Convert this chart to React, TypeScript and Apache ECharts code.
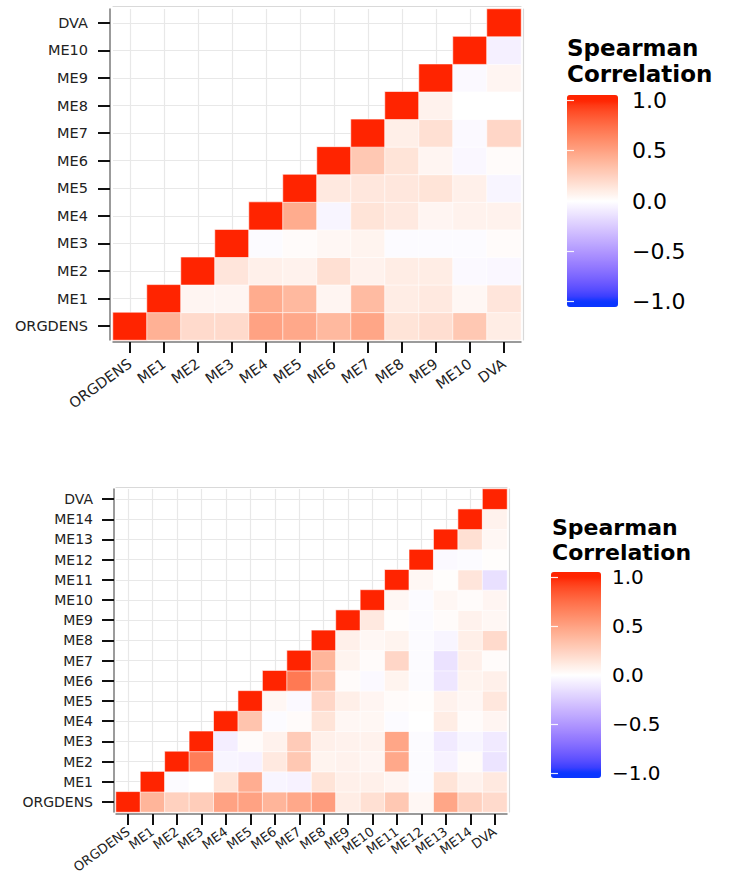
import { useEffect, useRef } from "react";
import * as echarts from "echarts";

// ---------- categories ----------
const TOP_VARS = ["ORGDENS", "ME1", "ME2", "ME3", "ME4", "ME5", "ME6", "ME7", "ME8", "ME9", "ME10", "DVA"];
const BOTTOM_VARS = ["ORGDENS", "ME1", "ME2", "ME3", "ME4", "ME5", "ME6", "ME7", "ME8", "ME9", "ME10", "ME11", "ME12", "ME13", "ME14", "DVA"];

// ---------- top matrix: each row lists values from its own diagonal to DVA ----------
const top_ORGDENS = [1, 0.42, 0.2, 0.2, 0.5, 0.47, 0.38, 0.48, 0.15, 0.18, 0.3, 0.1];
const top_ME1 = [1, 0.05, 0.05, 0.45, 0.38, 0.05, 0.37, 0.1, 0.12, 0.04, 0.14];
const top_ME2 = [1, 0.14, 0.08, 0.07, 0.17, 0.07, 0.1, 0.1, -0.03, -0.04];
const top_ME3 = [1, -0.02, 0.02, 0.04, 0.06, -0.02, -0.02, -0.02, 0.02];
const top_ME4 = [1, 0.45, -0.05, 0.15, 0.12, 0.05, 0.07, 0.07];
const top_ME5 = [1, 0.12, 0.13, 0.13, 0.15, 0.08, -0.05];
const top_ME6 = [1, 0.3, 0.15, 0.05, -0.04, 0.02];
const top_ME7 = [1, 0.09, 0.17, -0.03, 0.22];
const top_ME8 = [1, 0.07, 0, 0];
const top_ME9 = [1, -0.03, 0.05];
const top_ME10 = [1, -0.07];
const top_DVA = [1];
const TOP_ROWS = [top_ORGDENS, top_ME1, top_ME2, top_ME3, top_ME4, top_ME5, top_ME6, top_ME7, top_ME8, top_ME9, top_ME10, top_DVA];

// ---------- bottom matrix ----------
const bot_ORGDENS = [1, 0.4, 0.25, 0.27, 0.5, 0.5, 0.4, 0.47, 0.52, 0.1, 0.17, 0.3, 0.04, 0.48, 0.25, 0.2];
const bot_ME1 = [1, -0.02, 0, 0.15, 0.44, -0.05, -0.06, 0.15, 0.08, 0.08, 0.05, -0.02, 0.15, 0.07, 0.12];
const bot_ME2 = [1, 0.68, -0.05, -0.06, 0.12, 0.3, 0.06, 0.07, 0.05, 0.47, -0.02, -0.06, 0.02, -0.13];
const bot_ME3 = [1, -0.08, 0.02, 0.07, 0.28, 0.08, 0.07, 0.07, 0.48, -0.02, -0.1, -0.05, -0.1];
const bot_ME4 = [1, 0.32, -0.02, 0.02, 0.15, 0.04, 0.04, -0.02, 0, 0.1, 0.02, 0.05];
const bot_ME5 = [1, 0.04, -0.03, 0.22, 0.09, 0.05, 0.02, 0.01, 0.07, 0.04, 0.13];
const bot_ME6 = [1, 0.7, 0.36, 0.02, -0.03, 0.06, -0.02, -0.12, 0.06, 0.08];
const bot_ME7 = [1, 0.4, 0.06, 0.02, 0.22, -0.02, -0.14, 0.08, 0.02];
const bot_ME8 = [1, 0.08, 0.04, 0.06, -0.02, -0.05, 0.09, 0.2];
const bot_ME9 = [1, 0.12, 0.01, -0.02, 0.02, 0.07, 0.04];
const bot_ME10 = [1, 0.04, -0.02, 0.04, 0.02, 0.05];
const bot_ME11 = [1, 0.04, 0.01, 0.14, -0.15];
const bot_ME12 = [1, -0.03, -0.02, 0.01];
const bot_ME13 = [1, 0.17, 0.04];
const bot_ME14 = [1, 0.07];
const bot_DVA = [1];
const BOTTOM_ROWS = [bot_ORGDENS, bot_ME1, bot_ME2, bot_ME3, bot_ME4, bot_ME5, bot_ME6, bot_ME7, bot_ME8, bot_ME9, bot_ME10, bot_ME11, bot_ME12, bot_ME13, bot_ME14, bot_DVA];

// ---------- legend ----------
const LEGEND_TITLE = "Spearman\nCorrelation";
const LEGEND_MIN = -1;
const LEGEND_MAX = 1;
const LEGEND_STEP = 0.5;
const COLOR_HIGH = "#FF2400";
const COLOR_MID = "#FFFFFF";
const COLOR_LOW = "#0A35FF";

// ---------- Lab colour interpolation (like ggplot's gradient2) ----------
function hexToRgb(h: string) {
  const n = parseInt(h.slice(1), 16);
  return [(n >> 16) & 255, (n >> 8) & 255, n & 255];
}
function toLin(c: number) {
  c /= 255;
  return c <= 0.04045 ? c / 12.92 : Math.pow((c + 0.055) / 1.055, 2.4);
}
function fromLin(c: number) {
  c = Math.max(0, Math.min(1, c));
  const v = c <= 0.0031308 ? 12.92 * c : 1.055 * Math.pow(c, 1 / 2.4) - 0.055;
  return Math.round(v * 255);
}
const XN = 0.95047, YN = 1, ZN = 1.08883;
function f(t: number) {
  return t > 0.008856 ? Math.cbrt(t) : 7.787 * t + 16 / 116;
}
function finv(t: number) {
  const t3 = t * t * t;
  return t3 > 0.008856 ? t3 : (t - 16 / 116) / 7.787;
}
function hexToLab(h: string) {
  const [r, g, b] = hexToRgb(h).map(toLin);
  const x = 0.4124 * r + 0.3576 * g + 0.1805 * b;
  const y = 0.2126 * r + 0.7152 * g + 0.0722 * b;
  const z = 0.0193 * r + 0.1192 * g + 0.9505 * b;
  const fx = f(x / XN), fy = f(y / YN), fz = f(z / ZN);
  return [116 * fy - 16, 500 * (fx - fy), 200 * (fy - fz)];
}
function labToHex(L: number, a: number, bb: number) {
  const fy = (L + 16) / 116;
  const fx = fy + a / 500;
  const fz = fy - bb / 200;
  const x = XN * finv(fx), y = YN * finv(fy), z = ZN * finv(fz);
  const r = 3.2406 * x - 1.5372 * y - 0.4986 * z;
  const g = -0.9689 * x + 1.8758 * y + 0.0415 * z;
  const b = 0.0557 * x - 0.204 * y + 1.057 * z;
  const hex = (v: number) => v.toString(16).padStart(2, "0");
  return "#" + hex(fromLin(r)) + hex(fromLin(g)) + hex(fromLin(b));
}
const LAB_HIGH = hexToLab(COLOR_HIGH);
const LAB_MID = hexToLab(COLOR_MID);
const LAB_LOW = hexToLab(COLOR_LOW);
function colorAt(v: number) {
  const t = Math.max(-1, Math.min(1, v));
  const end = t >= 0 ? LAB_HIGH : LAB_LOW;
  const k = Math.abs(t);
  return labToHex(
    LAB_MID[0] + (end[0] - LAB_MID[0]) * k,
    LAB_MID[1] + (end[1] - LAB_MID[1]) * k,
    LAB_MID[2] + (end[2] - LAB_MID[2]) * k
  );
}
// the colour bar extends half a bin beyond the limits (20 bins), like ggplot's colourbar
const BAR_EXT = 1 + 1 / 19;
const STOPS = 41;
const BAR_COLORS = Array.from({ length: STOPS }, (_, i) => colorAt(-BAR_EXT + (i * 2 * BAR_EXT) / (STOPS - 1)));

function buildCells(rows: number[][]) {
  const out: [number, number, number][] = [];
  rows.forEach((row, r) => row.forEach((v, k) => out.push([r + k, r, v])));
  return out;
}

const FONT = "DejaVu Sans";

function mainXAxis(grid: number, data: string[], offset: number, fontSize: number, margin: number) {
  return {
    type: "category",
    gridIndex: grid,
    data,
    position: "bottom",
    offset,
    axisLine: { show: true, lineStyle: { color: "#7a7a7a", width: 1.5 } },
    axisTick: { show: true, alignWithLabel: true, interval: 0, length: 11, lineStyle: { color: "#111", width: 2 } },
    axisLabel: { interval: 0, rotate: 36, margin, fontSize, fontFamily: FONT, color: "#222" },
    splitLine: { show: true, alignWithLabel: true, interval: 0, lineStyle: { color: "#e8e8e8", width: 1.2 } },
  };
}
function mainYAxis(grid: number, data: string[], offset: number, fontSize: number, margin: number) {
  return {
    type: "category",
    gridIndex: grid,
    data,
    position: "left",
    offset,
    axisLine: { show: true, lineStyle: { color: "#7a7a7a", width: 1.5 } },
    axisTick: { show: true, alignWithLabel: true, interval: 0, length: 12, lineStyle: { color: "#111", width: 2 } },
    axisLabel: { interval: 0, margin, fontSize, fontFamily: FONT, color: "#222" },
    splitLine: { show: true, alignWithLabel: true, interval: 0, lineStyle: { color: "#e8e8e8", width: 1.2 } },
  };
}
function borderXAxis(grid: number, data: string[], offset: number) {
  return {
    type: "category",
    gridIndex: grid,
    data,
    position: "top",
    offset,
    axisLine: { show: true, lineStyle: { color: "#d9d9d9", width: 1.2 } },
    axisTick: { show: false },
    axisLabel: { show: false },
    splitLine: { show: false },
  };
}
function borderYAxis(grid: number, data: string[], offset: number) {
  return {
    type: "category",
    gridIndex: grid,
    data,
    position: "right",
    offset,
    axisLine: { show: true, lineStyle: { color: "#d9d9d9", width: 1.2 } },
    axisTick: { show: false },
    axisLabel: { show: false },
    splitLine: { show: false },
  };
}
const legendFmt = (v: number) => (v < 0 ? "\u2212" + Math.abs(v).toFixed(1) : v.toFixed(1));
function legendYAxis(grid: number, position: string, showLabel: boolean, fontSize: number, margin: number) {
  return {
    type: "value",
    gridIndex: grid,
    position,
    min: LEGEND_MIN,
    max: LEGEND_MAX,
    interval: LEGEND_STEP,
    z: 10,
    axisLine: { show: false },
    axisTick: { show: true, inside: true, length: 7, lineStyle: { color: "rgba(255,255,255,0.9)", width: 1.2 } },
    axisLabel: { show: showLabel, margin, fontSize, fontFamily: FONT, color: "#000", formatter: legendFmt },
    splitLine: { show: false },
  };
}
function hiddenX(grid: number) {
  return { type: "value", gridIndex: grid, show: false, min: 0, max: 1 };
}

export default function App() {
  const ref = useRef<HTMLDivElement>(null);
  useEffect(() => {
    if (!ref.current) return;
    const chart = echarts.init(ref.current, undefined, { renderer: "svg" });
    const option = {
      animation: false,
      backgroundColor: "#ffffff",
      title: [
        {
          text: LEGEND_TITLE,
          left: 567,
          top: 35,
          padding: 0,
          textStyle: { fontFamily: FONT, fontWeight: "bold", fontSize: 23, lineHeight: 26, color: "#000" },
        },
        {
          text: LEGEND_TITLE,
          left: 552,
          top: 515,
          padding: 0,
          textStyle: { fontFamily: FONT, fontWeight: "bold", fontSize: 22, lineHeight: 25, color: "#000" },
        },
      ],
      grid: [
        { left: 113, top: 9, width: 408, height: 331, outerBoundsMode: "none", containLabel: false },
        { left: 116, top: 489, width: 391, height: 323, outerBoundsMode: "none", containLabel: false },
        { left: 567, top: 100.3, width: 51, height: 201.4, outerBoundsMode: "none", containLabel: false },
        { left: 551, top: 577.2, width: 50, height: 195.7, outerBoundsMode: "none", containLabel: false },
      ],
      xAxis: [
        mainXAxis(0, TOP_VARS, 2, 14.5, 20),
        borderXAxis(0, TOP_VARS, 3),
        mainXAxis(1, BOTTOM_VARS, 2, 13, 16),
        borderXAxis(1, BOTTOM_VARS, 2),
        hiddenX(2),
        hiddenX(3),
      ],
      yAxis: [
        mainYAxis(0, TOP_VARS, 3, 14.5, 22),
        borderYAxis(0, TOP_VARS, 2),
        mainYAxis(1, BOTTOM_VARS, 2, 14, 21),
        borderYAxis(1, BOTTOM_VARS, 2),
        legendYAxis(2, "right", true, 22, 14),
        legendYAxis(2, "left", false, 22, 8),
        legendYAxis(3, "right", true, 20, 11),
        legendYAxis(3, "left", false, 20, 8),
      ],
      visualMap: [
        {
          type: "continuous",
          seriesIndex: 0,
          min: -BAR_EXT,
          max: BAR_EXT,
          calculable: false,
          orient: "vertical",
          left: 567,
          top: 95,
          itemWidth: 51,
          itemHeight: 212,
          padding: 0,
          hoverLink: false,
          inRange: { color: BAR_COLORS },
        },
        {
          type: "continuous",
          seriesIndex: 1,
          min: -BAR_EXT,
          max: BAR_EXT,
          calculable: false,
          orient: "vertical",
          left: 551,
          top: 572,
          itemWidth: 50,
          itemHeight: 206,
          padding: 0,
          hoverLink: false,
          inRange: { color: BAR_COLORS },
        },
      ],
      series: [
        {
          type: "heatmap",
          xAxisIndex: 0,
          yAxisIndex: 0,
          data: buildCells(TOP_ROWS),
          itemStyle: { borderColor: "rgba(255,255,255,0.75)", borderWidth: 0.8 },
          emphasis: { disabled: true },
        },
        {
          type: "heatmap",
          xAxisIndex: 2,
          yAxisIndex: 2,
          data: buildCells(BOTTOM_ROWS),
          itemStyle: { borderColor: "rgba(255,255,255,0.75)", borderWidth: 0.8 },
          emphasis: { disabled: true },
        },
      ],
    };
    chart.setOption(option as any);
    return () => chart.dispose();
  }, []);
  return (
    <div
      ref={ref}
      style={{ position: "absolute", left: 0, top: 0, width: 729, height: 876 }}
    />
  );
}
